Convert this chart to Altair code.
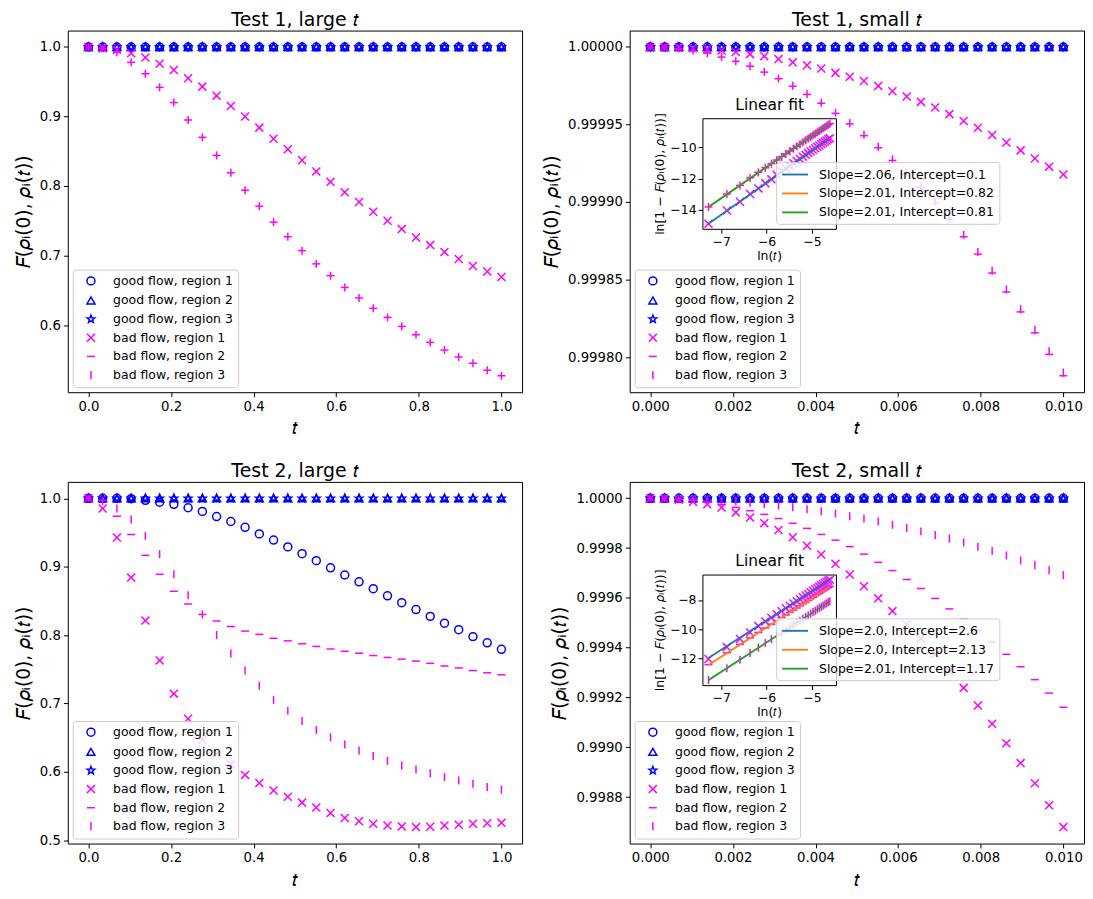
import numpy as np
import pandas as pd
import altair as alt

# ---------------- data ----------------
N = 30
T_LARGE = np.linspace(0.0, 1.0, N)
T_SMALL = np.linspace(0.0, 0.01, N)

SERIES = ["good flow, region 1", "good flow, region 2", "good flow, region 3",
          "bad flow, region 1", "bad flow, region 2", "bad flow, region 3"]

ONES = [1.0] * N

# Test 1, large t
T1L_BAD1 = [1.0, 0.998, 0.996, 0.991, 0.985, 0.976, 0.967, 0.955, 0.943, 0.930,
            0.915, 0.900, 0.884, 0.868, 0.853, 0.837, 0.821, 0.806, 0.791, 0.777,
            0.763, 0.750, 0.738, 0.726, 0.715, 0.705, 0.695, 0.685, 0.677, 0.669]
T1L_BAD2 = [1.0, 0.998, 0.9925, 0.978, 0.9615, 0.942, 0.920, 0.895, 0.870, 0.844,
            0.819, 0.794, 0.771, 0.748, 0.727, 0.707, 0.688, 0.671, 0.654, 0.639,
            0.624, 0.611, 0.598, 0.586, 0.575, 0.564, 0.554, 0.545, 0.535, 0.527]
T1L_BAD3 = [1.0, 0.998, 0.9925, 0.978, 0.9615, 0.942, 0.920, 0.895, 0.870, 0.844,
            0.819, 0.794, 0.771, 0.748, 0.727, 0.707, 0.688, 0.671, 0.654, 0.639,
            0.624, 0.611, 0.598, 0.586, 0.575, 0.564, 0.554, 0.545, 0.535, 0.527]

# Test 1, small t : deficits 1 - F, in units of 1e-6
T1S_BAD1_DEF = [0, 0.08, 0.34, 0.8, 1.4, 2.3, 3.3, 4.6, 5.9, 7.8,
                9.9, 11.8, 13.9, 16.7, 19.2, 21.9, 25.1, 28.5, 31.9, 35.4,
                39.0, 43.3, 47.7, 52.1, 56.8, 61.6, 66.7, 71.9, 77.2, 82.3]
T1S_BAD2_DEF = [0, 0.25, 1.0, 2.3, 4.0, 6.5, 9.3, 12.4, 16.2, 20.5,
                25.3, 30.6, 36.3, 42.8, 49.6, 57.2, 65.0, 73.2, 81.9, 90.9,
                100.9, 111.2, 122.4, 133.6, 145.8, 158.0, 170.9, 184.4, 198.3, 212.1]
T1S_BAD3_DEF = [0, 0.25, 1.0, 2.3, 4.0, 6.4, 9.2, 12.3, 16.0, 20.3,
                25.0, 30.3, 35.9, 42.4, 49.1, 56.6, 64.4, 72.5, 81.1, 90.0,
                99.9, 110.1, 121.2, 132.3, 144.3, 156.4, 169.2, 182.6, 196.3, 210.0]

# Test 2, large t
T2L_GOOD1 = [1.0, 1.0, 1.0, 0.9995, 0.9971, 0.9943, 0.9912, 0.9862, 0.9809, 0.9733,
             0.9661, 0.9576, 0.9480, 0.9390, 0.9290, 0.9190, 0.9089, 0.8984, 0.8879, 0.8779,
             0.8679, 0.8574, 0.8474, 0.8374, 0.8274, 0.8174, 0.8079, 0.7978, 0.7887, 0.7792]
T2L_BAD1 = [1.0, 0.9852, 0.9428, 0.8841, 0.8212, 0.7630, 0.7144, 0.6776, 0.6471, 0.6266,
            0.6109, 0.5956, 0.5837, 0.5727, 0.5637, 0.5551, 0.5479, 0.5398, 0.5327, 0.5279,
            0.5241, 0.5217, 0.5203, 0.5193, 0.5198, 0.5217, 0.5227, 0.5241, 0.5250, 0.5255]
T2L_BAD2 = [1.0, 0.997, 0.9738, 0.9471, 0.9166, 0.8889, 0.8641, 0.8455, 0.8302, 0.8207,
            0.8126, 0.8059, 0.8011, 0.7954, 0.7916, 0.7873, 0.7835, 0.7797, 0.7763, 0.7735,
            0.7701, 0.7673, 0.7649, 0.7620, 0.7587, 0.7549, 0.7520, 0.7482, 0.7449, 0.7420]
T2L_BAD3 = [1.0, 0.9962, 0.9852, 0.9690, 0.9452, 0.9185, 0.8889, 0.8584, 0.8302, 0.8002,
            0.7730, 0.7482, 0.7258, 0.7053, 0.6896, 0.6743, 0.6614, 0.6505, 0.6400, 0.6314,
            0.6233, 0.6161, 0.6094, 0.6037, 0.5980, 0.5923, 0.5875, 0.5827, 0.5780, 0.5741]

# Test 2, small t : deficits 1 - F, in units of 1e-6
T2S_BAD1_DEF = [0, 1.6, 6.0, 13.5, 23.6, 36.7, 56.4, 77.4, 99.7, 127.2,
                156.1, 190.2, 225.6, 262.6, 305.9, 353.1, 401.6, 452.8, 506.7, 564.2,
                626.0, 692.9, 761.0, 831.9, 905.5, 983.1, 1063.0, 1144.0, 1232.0, 1320.0]
T2S_BAD2_DEF = [0, 1.0, 4.1, 9.2, 16.3, 25.4, 36.5, 49.8, 64.5, 81.3,
                100.4, 120.6, 145.0, 168.0, 194.0, 224.0, 257.0, 290.0, 326.0, 362.0,
                402.0, 444.0, 485.0, 531.0, 578.0, 626.0, 676.0, 728.0, 782.0, 839.0]
T2S_BAD3_DEF = [0, 0.35, 1.43, 3.2, 5.7, 9.0, 13.0, 17.7, 23.1, 29.3,
                36.2, 43.9, 52.2, 61.0, 72.0, 81.5, 93.3, 106.3, 119.3, 132.7,
                146.9, 161.4, 177.2, 194.1, 211.4, 229.5, 249.2, 268.9, 288.6, 308.3]

# Linear fits shown in the insets (slope, intercept)
T1_FITS = [(2.06, 0.1), (2.01, 0.82), (2.01, 0.81)]
T1_FIT_LABELS = ["Slope=2.06, Intercept=0.1", "Slope=2.01, Intercept=0.82", "Slope=2.01, Intercept=0.81"]
T2_FITS = [(2.0, 2.6), (2.0, 2.13), (2.01, 1.17)]
T2_FIT_LABELS = ["Slope=2.0, Intercept=2.6", "Slope=2.0, Intercept=2.13", "Slope=2.01, Intercept=1.17"]

# ---------------- styling ----------------
FONT = "DejaVu Sans"
BLUE, MAGENTA = "#0000ff", "#ff00ff"
COLORS = [BLUE, BLUE, BLUE, MAGENTA, MAGENTA, MAGENTA]
TAB = ["#1f77b4", "#ff7f0e", "#2ca02c"]

_star = []
for k in range(10):
    a = -np.pi / 2 + k * np.pi / 5
    r = 1.0 if k % 2 == 0 else 0.42
    _star.append(f"{r*np.cos(a):.3f},{r*np.sin(a):.3f}")
STAR = "M" + "L".join(_star) + "Z"
SHAPES = ["circle", "triangle-up", STAR,
          "M-1,-1L1,1M-1,1L1,-1", "M-1,0L1,0", "M0,-1L0,1"]

W, H = 456, 363
MS = 64   # marker area (8 px)
SW = 1.5  # marker stroke width
INSET_X = [73, 207]
TITLE_FS = 19
AXT_FS = 18.7
TICK_FS = 13.3

T_ITAL = "\U0001D461"
F_ITAL = "\U0001D439"
RHO = "\U0001D70C"
SUB_I = "\u1D62"
YTITLE = f"{F_ITAL}({RHO}{SUB_I}(0), {RHO}{SUB_I}({T_ITAL}))"
INSET_YTITLE = f"ln[1 \u2212 {F_ITAL}({RHO}{SUB_I}(0), {RHO}{SUB_I}({T_ITAL}))]"

MAIN_LEGEND = alt.Legend(
    title=None, orient="bottom-left", offset=5,
    labelFontSize=12.5, labelFont=FONT, labelColor="black", labelLimit=300,
    symbolSize=MS, symbolStrokeWidth=SW, symbolOffset=7, labelOffset=16,
    strokeColor="#cccccc", fillColor="rgba(255,255,255,0.8)",
    padding=5, cornerRadius=3, rowPadding=4.7,
)


def margins(lo, hi, frac=0.05):
    p = (hi - lo) * frac
    return [lo - p, hi + p]


def axis_main(values, fmt, title, pad):
    return alt.Axis(values=values, format=fmt, title=title, grid=False, domain=False,
                    ticks=True, tickSize=4.4, tickColor="black", tickWidth=1,
                    labelFontSize=TICK_FS, labelFont=FONT, labelColor="black", labelPadding=3,
                    titleFontSize=AXT_FS, titleFont=FONT, titleFontWeight="normal",
                    titleColor="black", titlePadding=pad, labelFlush=False)


def panel(title, t, values, xticks, xfmt, yticks, yfmt, inset=None):
    rows = []
    for name, vals in zip(SERIES, values):
        for tv, fv in zip(t, vals):
            rows.append({"t": float(tv), "F": float(fv), "series": name})
    df = pd.DataFrame(rows)
    allF = df["F"].to_numpy()
    ydom = margins(allF.min(), allF.max())
    xdom = margins(float(t[0]), float(t[-1]))

    color = alt.Color("series:N", scale=alt.Scale(domain=SERIES, range=COLORS), legend=MAIN_LEGEND)
    shape = alt.Shape("series:N", scale=alt.Scale(domain=SERIES, range=SHAPES), legend=MAIN_LEGEND)

    main = alt.Chart(df).mark_point(filled=False, size=MS, strokeWidth=SW, opacity=1).encode(
        x=alt.X("t:Q", scale=alt.Scale(domain=xdom, nice=False, zero=False),
                axis=axis_main(xticks, xfmt, T_ITAL, 6)),
        y=alt.Y("F:Q", scale=alt.Scale(domain=ydom, nice=False, zero=False),
                axis=axis_main(yticks, yfmt, YTITLE, 6)),
        color=color, shape=shape,
    )
    layers = [main]

    if inset is not None:
        defs, fits, labels, iy_pix, iyticks, legxy = inset
        lt = np.log(t[2:])
        irows = []
        for name, d in zip(SERIES[3:], defs):
            for x, dv in zip(lt, d[2:]):
                irows.append({"lt": float(x), "lD": float(np.log(dv * 1e-6)), "series": name})
        idf = pd.DataFrame(irows)
        frows = []
        for lab, (s, b) in zip(labels, fits):
            for x in (lt[0], lt[-1]):
                frows.append({"lt": float(x), "y": float(s * x + b), "fit": lab})
        fdf = pd.DataFrame(frows)
        ally = np.concatenate([idf["lD"].to_numpy(), fdf["y"].to_numpy()])
        ixdom = margins(float(lt[0]), float(lt[-1]))
        iydom = margins(float(ally.min()), float(ally.max()))
        ixs = alt.Scale(domain=ixdom, range=INSET_X, nice=False, zero=False)
        iys = alt.Scale(domain=iydom, range=[iy_pix[1], iy_pix[0]], nice=False, zero=False)
        common = dict(grid=False, tickColor="black", tickSize=4.4, labelFontSize=12.5,
                      labelFont=FONT, labelColor="black", titleFont=FONT,
                      titleFontWeight="normal", titleColor="black",
                      domainColor="black", domainWidth=1, labelFlush=False)
        ipts = alt.Chart(idf).mark_point(filled=False, size=MS, strokeWidth=SW, opacity=1).encode(
            x=alt.X("lt:Q", scale=ixs,
                    axis=alt.Axis(orient="bottom", offset=-(H - iy_pix[1]), values=[-7, -6, -5],
                                  format="d", title=f"ln({T_ITAL})", titleFontSize=12.5,
                                  titlePadding=2, labelPadding=2, **common)),
            y=alt.Y("lD:Q", scale=iys,
                    axis=alt.Axis(orient="left", offset=-INSET_X[0], values=iyticks,
                                  format="d", title=INSET_YTITLE, titleFontSize=12.5,
                                  titlePadding=3, labelPadding=2, **common)),
            color=color, shape=shape,
        )
        fit = alt.Chart(fdf).mark_line(strokeWidth=1.9).encode(
            x=alt.X("lt:Q", scale=ixs,
                    axis=alt.Axis(orient="top", offset=-iy_pix[0], labels=False, ticks=False,
                                  title="Linear fit", titleFontSize=15.5, titlePadding=6,
                                  **common)),
            y=alt.Y("y:Q", scale=iys,
                    axis=alt.Axis(orient="right", offset=-(W - INSET_X[1]), labels=False,
                                  ticks=False, title=None, **common)),
            stroke=alt.Stroke("fit:N", scale=alt.Scale(domain=labels, range=TAB),
                              legend=alt.Legend(title=None, orient="none", legendX=legxy[0],
                                                legendY=legxy[1], labelFontSize=12.5,
                                                labelFont=FONT, labelColor="black",
                                                labelLimit=400,
                                                symbolType="M-2,0L2,0", symbolSize=169,
                                                symbolStrokeWidth=1.9, symbolOffset=6.5,
                                                labelOffset=16.5,
                                                strokeColor="#cccccc",
                                                fillColor="rgba(255,255,255,0.8)",
                                                padding=5, cornerRadius=3, rowPadding=5)),
            order=alt.Order("fit:N"),
        )
        layers += [ipts, fit]

    return alt.layer(*layers).resolve_scale(x="independent", y="independent").properties(
        width=W, height=H,
        title=alt.TitleParams(title, fontSize=TITLE_FS, font=FONT, fontWeight="normal",
                              color="black", anchor="middle", frame="group", offset=1),
    )


p1 = panel(f"Test 1, large {T_ITAL}", T_LARGE,
           [ONES, ONES, ONES, T1L_BAD1, T1L_BAD2, T1L_BAD3],
           [0.0, 0.2, 0.4, 0.6, 0.8, 1.0], ".1f", [0.6, 0.7, 0.8, 0.9, 1.0], ".1f")

t1s = [ONES, ONES, ONES] + [[1.0 - d * 1e-6 for d in D] for D in (T1S_BAD1_DEF, T1S_BAD2_DEF, T1S_BAD3_DEF)]
p2 = panel(f"Test 1, small {T_ITAL}", T_SMALL, t1s,
           [0.0, 0.002, 0.004, 0.006, 0.008, 0.010], ".3f",
           [0.9998, 0.99985, 0.9999, 0.99995, 1.0], ".5f",
           inset=((T1S_BAD1_DEF, T1S_BAD2_DEF, T1S_BAD3_DEF), T1_FITS, T1_FIT_LABELS,
                  (88, 199), [-14, -12, -10], (147, 132)))

p3 = panel(f"Test 2, large {T_ITAL}", T_LARGE,
           [T2L_GOOD1, ONES, ONES, T2L_BAD1, T2L_BAD2, T2L_BAD3],
           [0.0, 0.2, 0.4, 0.6, 0.8, 1.0], ".1f", [0.5, 0.6, 0.7, 0.8, 0.9, 1.0], ".1f")

t2s = [ONES, ONES, ONES] + [[1.0 - d * 1e-6 for d in D] for D in (T2S_BAD1_DEF, T2S_BAD2_DEF, T2S_BAD3_DEF)]
p4 = panel(f"Test 2, small {T_ITAL}", T_SMALL, t2s,
           [0.0, 0.002, 0.004, 0.006, 0.008, 0.010], ".3f",
           [0.9988, 0.999, 0.9992, 0.9994, 0.9996, 0.9998, 1.0], ".4f",
           inset=((T2S_BAD1_DEF, T2S_BAD2_DEF, T2S_BAD3_DEF), T2_FITS, T2_FIT_LABELS,
                  (93, 204), [-12, -10, -8], (147, 137)))

chart = alt.concat(p1, p2, p3, p4, columns=2, spacing={"row": 23, "column": 19}).resolve_scale(
    color="independent", shape="independent", stroke="independent"
).properties(
    padding={"left": 5, "top": 0, "right": 0, "bottom": 0}
).configure(font=FONT).configure_view(stroke="black", strokeWidth=1)

chart.save("out.html", embed_options={"renderer": "svg", "actions": False})
